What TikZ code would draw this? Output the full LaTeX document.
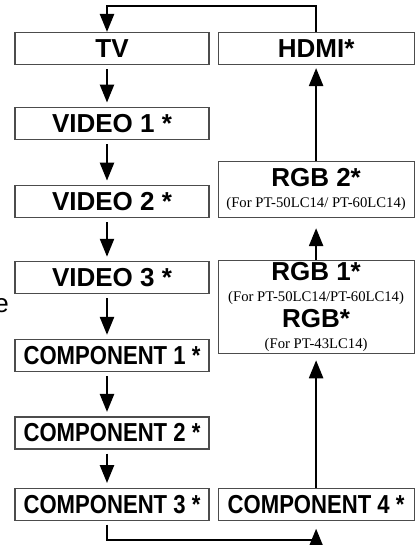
\documentclass[tikz,border=0pt]{standalone}
\usepackage{fontspec}
\setmainfont{Liberation Sans}
\newfontfamily\condsans[FakeStretch=0.85]{Liberation Sans}
\newfontfamily\notefont{Liberation Serif}
\usetikzlibrary{arrows.meta,positioning}
\definecolor{frame}{gray}{0.3}
\tikzset{
  lbox/.style = {rectangle, draw=frame, line width=1.1pt,
                 minimum width=194pt, minimum height=32pt, inner sep=0pt,
                 align=center, font=\fontsize{26}{21}\selectfont\bfseries},
  rbox/.style = {lbox, minimum width=196pt},
  cond/.style = {font=\fontsize{26}{21}\selectfont\condsans\bfseries},
  arr/.style  = {-{Triangle[length=18pt,width=14pt]}, line width=2.4pt}
}
\newcommand{\modelnote}[1]{{\fontsize{14.7}{16}\selectfont\notefont\mdseries #1}}

\begin{document}
\begin{tikzpicture}[node distance=43pt and 8pt]
  \useasboundingbox (0,0) rectangle (415pt,-545pt);
  % left column
  \node[lbox] (tv) at (112pt,-48.5pt) {TV};
  \node[lbox, below=42pt of tv] (video1) {VIDEO 1 *};
  \node[lbox, below=45pt of video1] (video2) {VIDEO 2 *};
  \node[lbox, below=of video2] (video3) {VIDEO 3 *};
  \node[lbox, cond, below=45pt of video3] (comp1) {COMPONENT 1 *};
  \node[lbox, cond, below=44pt of comp1] (comp2) {COMPONENT 2 *};
  \node[lbox, cond, below=38pt of comp2] (comp3) {COMPONENT 3 *};
  % right column
  \node[rbox, right=of tv] (hdmi) {HDMI*};
  \node[rbox, minimum height=56pt, below=96pt of hdmi] (rgb2)
    {RGB 2*\\\modelnote{(For PT-50LC14/ PT-60LC14)}};
  \node[rbox, minimum height=93pt, below=42pt of rgb2] (rgb1)
    {RGB 1*\\\modelnote{(For PT-50LC14/PT-60LC14)}\\[4pt]
     RGB*\\\modelnote{(For PT-43LC14)}};
  \node[rbox, cond, right=of comp3] (comp4) {COMPONENT 4 *};
  \node[font=\fontsize{26}{28}\selectfont, anchor=base east, inner sep=0pt]
    (cut) at (9pt,-312pt) {e};
  % connectors
  \coordinate (lspine) at (107pt,0);
  \coordinate (topbend) at (0,-6pt);
  \coordinate (botbend) at (0,-540pt);
  \foreach \a/\b in {tv/video1,video1/video2,video2/video3,video3/comp1,comp1/comp2,comp2/comp3}
    \draw[arr, shorten <=4pt, shorten >=4.5pt] (\a.south -| lspine) -- (\b.north -| lspine);
  \foreach \a/\b/\g in {comp4/rgb1/6pt,rgb1/rgb2/10pt,rgb2/hdmi/3pt}
    \draw[arr, shorten >=\g] (\a) -- (\b);
  \draw[arr] (hdmi.north) -- (hdmi.north |- topbend) -| (tv.north -| lspine);
  \draw[arr, shorten <=4pt, shorten >=8pt] (comp3.south -| lspine)
    |- (comp4.south |- botbend) -- (comp4.south);
\end{tikzpicture}
\end{document}
